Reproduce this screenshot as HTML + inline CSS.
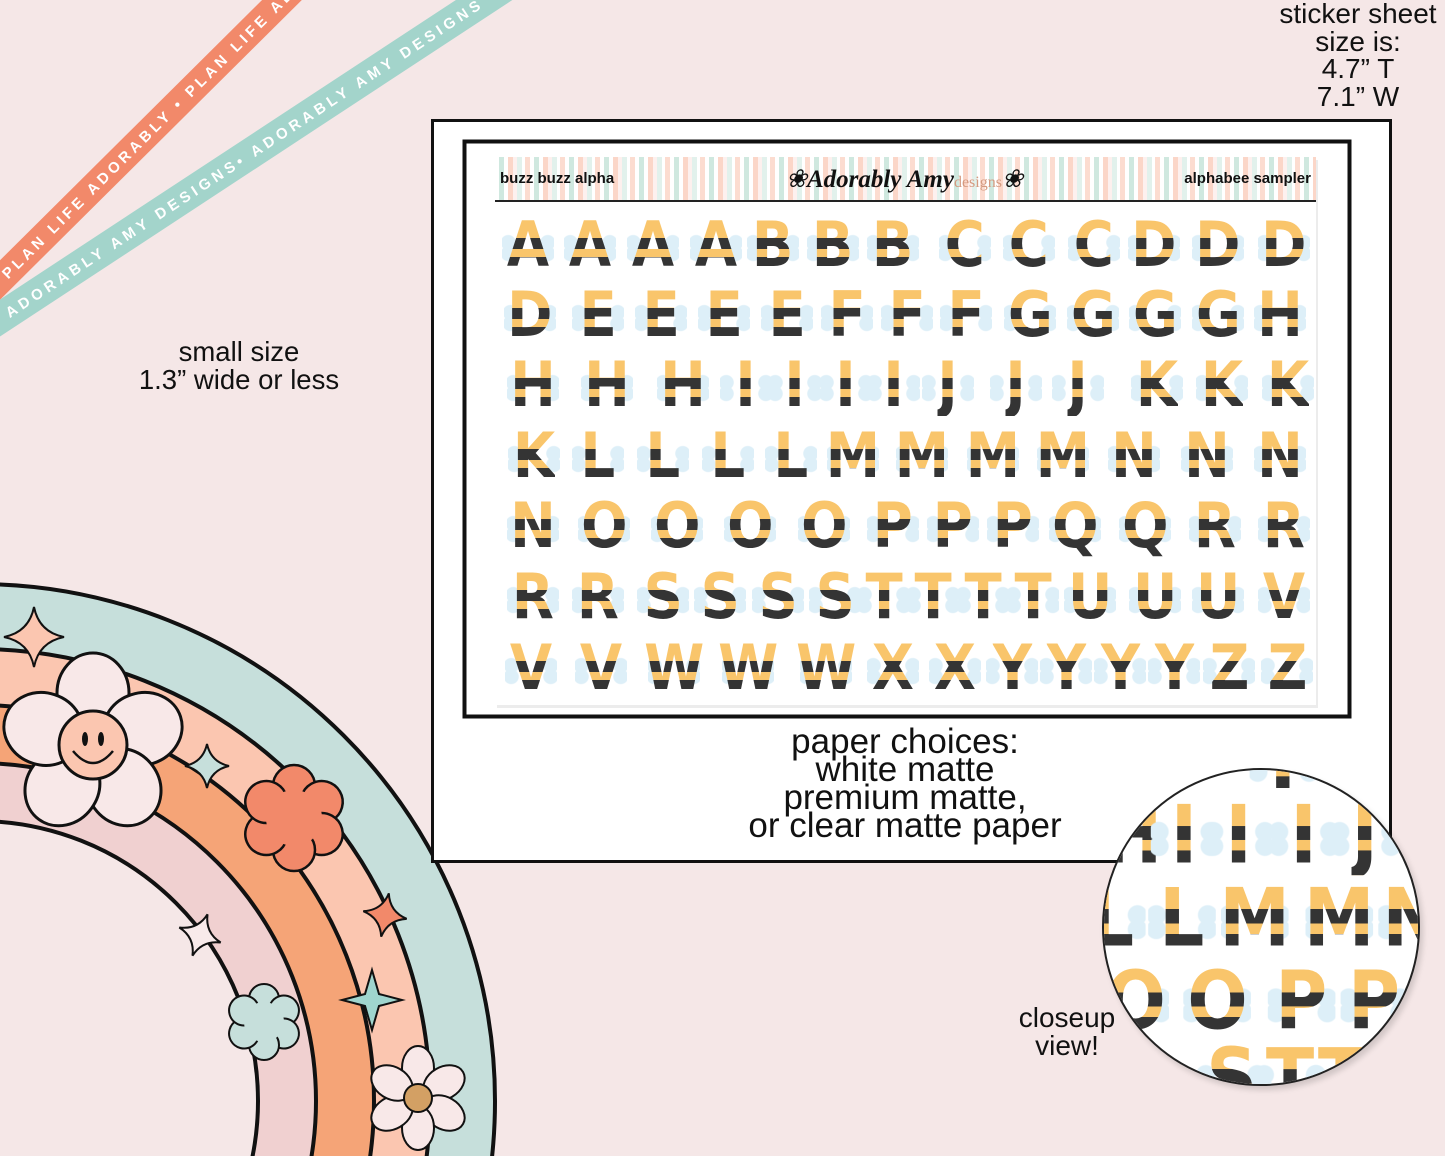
<!DOCTYPE html>
<html><head><meta charset="utf-8"><style>
html,body{margin:0;padding:0}
body{width:1445px;height:1156px;position:relative;overflow:hidden;background:#f5e7e7;font-family:"Liberation Sans",sans-serif}
.abs{position:absolute}
.c{position:absolute;width:80px;margin-left:-40px;height:62px;text-align:center}
.c::before{content:"";position:absolute;left:50%;top:18px;width:52px;height:30px;margin-left:-26px;
background:radial-gradient(circle at 12% 35%,#ddeff8 7px,transparent 8px),radial-gradient(circle at 12% 72%,#ddeff8 7px,transparent 8px),radial-gradient(circle at 88% 35%,#ddeff8 7px,transparent 8px),radial-gradient(circle at 88% 72%,#ddeff8 7px,transparent 8px);background-repeat:no-repeat}
.c b{position:relative;display:inline-block;font-family:"DejaVu Sans",sans-serif;font-weight:bold;font-size:62px;line-height:62px;
transform:scaleX(.88);color:transparent;
background:linear-gradient(to bottom,#f9c56b 0,#f9c56b 24px,#343434 24px,#343434 35px,#f9c56b 35px,#f9c56b 43px,#343434 43px);
-webkit-background-clip:text;background-clip:text}
.t{position:absolute;text-align:center;color:#111}
</style></head><body>
<svg class="abs" style="left:0;top:0" width="1445" height="1156" viewBox="0 0 1445 1156">
<defs>
<g id="star"><path d="M0,-30 Q5,-5 30,0 Q5,5 0,30 Q-5,5 -30,0 Q-5,-5 0,-30Z" stroke="#111" stroke-width="2"/></g>
<g id="star4"><path d="M0,-22 Q4,-4 22,0 Q4,4 0,22 Q-4,4 -22,0 Q-4,-4 0,-22Z" stroke="#111" stroke-width="2"/></g>
</defs>
<g transform="translate(0,280) rotate(-44.8)">
<rect x="-60" y="-14" width="520" height="28" fill="#f2896a"/>
<text x="6" y="5.5" font-family="Liberation Sans" font-size="15" font-weight="bold" letter-spacing="3.8" fill="#fff">PLAN LIFE ADORABLY • PLAN LIFE ADORABLY</text>
</g>
<g transform="translate(0,318) rotate(-33.3)">
<rect x="-60" y="-15.5" width="720" height="31" fill="#a3d4cb"/>
<text x="8" y="5.5" font-family="Liberation Sans" font-size="15" font-weight="bold" letter-spacing="4.2" fill="#fff">ADORABLY AMY DESIGNS• ADORABLY AMY DESIGNS •</text>
</g>
<g stroke="#111" stroke-width="4">
<circle cx="-22" cy="1101" r="517" fill="#c6dfdb"/>
<circle cx="-22" cy="1101" r="452" fill="#fbc6b0"/>
<circle cx="-22" cy="1101" r="396" fill="#f5a477"/>
<circle cx="-22" cy="1101" r="338" fill="#f0d0d0"/>
<circle cx="-22" cy="1101" r="280" fill="#f5e7e7"/>
</g>
<g transform="translate(34,637)" fill="#fbc6b0"><use href="#star"/></g>
<g transform="translate(207,766)" fill="#c6dfdb"><use href="#star4"/></g>
<g transform="translate(200,935) rotate(20)" fill="#f8eaea"><use href="#star4"/></g>
<g transform="translate(385,915) rotate(10)" fill="#f2896a"><use href="#star4"/></g>
<g transform="translate(372,1000)" fill="#9fd5ce"><path d="M0,-30 L7,-6 30,0 7,6 0,30 -7,6 -30,0 -7,-6Z" stroke="#111" stroke-width="2"/></g>
<g transform="translate(93,745)" fill="#f8e8e8" stroke="#111" stroke-width="3">
<g><ellipse cx="0" cy="-52" rx="36" ry="40"/><ellipse cx="0" cy="-52" rx="36" ry="40" transform="rotate(72)"/><ellipse cx="0" cy="-52" rx="36" ry="40" transform="rotate(144)"/><ellipse cx="0" cy="-52" rx="36" ry="40" transform="rotate(216)"/><ellipse cx="0" cy="-52" rx="36" ry="40" transform="rotate(288)"/></g>
<circle r="34" fill="#fbc6b0"/>
<ellipse cx="-8" cy="-6" rx="3" ry="7" fill="#111" stroke="none"/><ellipse cx="8" cy="-6" rx="3" ry="7" fill="#111" stroke="none"/>
<path d="M-20,6 Q0,30 20,6" fill="none" stroke-width="2.5"/>
</g>
<g transform="translate(294,818)" fill="#f2896a" stroke="#111" stroke-width="2.5">
<circle cx="0" cy="-32" r="21"/><circle cx="0" cy="-32" r="21" transform="rotate(60)"/><circle cx="0" cy="-32" r="21" transform="rotate(120)"/><circle cx="0" cy="-32" r="21" transform="rotate(180)"/><circle cx="0" cy="-32" r="21" transform="rotate(240)"/><circle cx="0" cy="-32" r="21" transform="rotate(300)"/>
<circle r="28" stroke="none"/>
</g>
<g transform="translate(264,1022)" fill="#c6dfdb" stroke="#111" stroke-width="2">
<circle cx="0" cy="-23" r="15"/><circle cx="0" cy="-23" r="15" transform="rotate(60)"/><circle cx="0" cy="-23" r="15" transform="rotate(120)"/><circle cx="0" cy="-23" r="15" transform="rotate(180)"/><circle cx="0" cy="-23" r="15" transform="rotate(240)"/><circle cx="0" cy="-23" r="15" transform="rotate(300)"/>
<circle r="20" stroke="none"/>
</g>
<g transform="translate(418,1098)" fill="#f8e8e8" stroke="#111" stroke-width="2">
<ellipse cx="0" cy="-30" rx="16" ry="22"/><ellipse cx="0" cy="-30" rx="16" ry="22" transform="rotate(60)"/><ellipse cx="0" cy="-30" rx="16" ry="22" transform="rotate(120)"/><ellipse cx="0" cy="-30" rx="16" ry="22" transform="rotate(180)"/><ellipse cx="0" cy="-30" rx="16" ry="22" transform="rotate(240)"/><ellipse cx="0" cy="-30" rx="16" ry="22" transform="rotate(300)"/>
<circle r="14" fill="#d3a064"/>
</g>
<rect x="432.5" y="120.5" width="958" height="741" fill="#fff" stroke="#111" stroke-width="3"/>
<rect x="464.5" y="141.5" width="885" height="575" fill="#fff" stroke="#111" stroke-width="4"/>
<rect x="497" y="160" width="821" height="548" fill="#ececec"/>
<rect x="495" y="157" width="821" height="548" fill="#fff"/>
</svg>
<div class="abs" style="left:495px;top:157px;width:821px;height:43px;border-bottom:2px solid #222;background:repeating-linear-gradient(to right,#fff 0 4px,#cfe8df 4px 9px,#fff 9px 13px,#fbd6c8 13px 18px,#fdf0ee 18px 22px,#e2f1ec 22px 27px,#fff 27px 30px,#fcdcd0 30px 35px)"></div>
<div class="abs" style="left:500px;top:170px;font-size:15px;font-weight:bold;color:#111">buzz buzz alpha</div>
<div class="abs" style="right:134px;top:170px;font-size:15px;font-weight:bold;color:#111">alphabee sampler</div>
<div class="abs" style="left:786px;top:164px;font-family:'Liberation Serif',serif;font-style:italic;font-size:25px;color:#111;white-space:nowrap">❀<span style="font-weight:bold">Adorably Amy</span><span style="font-size:16px;color:#d49a80;font-style:normal">designs</span>❀</div>

<div id="g">
<div class="c" style="left:528px;top:214px"><b>A</b></div><div class="c" style="left:590px;top:214px"><b>A</b></div><div class="c" style="left:653px;top:214px"><b>A</b></div><div class="c" style="left:716px;top:214px"><b>A</b></div><div class="c" style="left:773px;top:214px"><b>B</b></div><div class="c" style="left:833px;top:214px"><b>B</b></div><div class="c" style="left:893px;top:214px"><b>B</b></div><div class="c" style="left:965px;top:214px"><b>C</b></div><div class="c" style="left:1029px;top:214px"><b>C</b></div><div class="c" style="left:1094px;top:214px"><b>C</b></div><div class="c" style="left:1154px;top:214px"><b>D</b></div><div class="c" style="left:1218px;top:214px"><b>D</b></div><div class="c" style="left:1284px;top:214px"><b>D</b></div>
<div class="c" style="left:530px;top:284px"><b>D</b></div><div class="c" style="left:598px;top:284px"><b>E</b></div><div class="c" style="left:661px;top:284px"><b>E</b></div><div class="c" style="left:724px;top:284px"><b>E</b></div><div class="c" style="left:787px;top:284px"><b>E</b></div><div class="c" style="left:847px;top:284px"><b>F</b></div><div class="c" style="left:907px;top:284px"><b>F</b></div><div class="c" style="left:966px;top:284px"><b>F</b></div><div class="c" style="left:1030px;top:284px"><b>G</b></div><div class="c" style="left:1093px;top:284px"><b>G</b></div><div class="c" style="left:1155px;top:284px"><b>G</b></div><div class="c" style="left:1218px;top:284px"><b>G</b></div><div class="c" style="left:1280px;top:284px"><b>H</b></div>
<div class="c" style="left:533px;top:354px"><b>H</b></div><div class="c" style="left:607px;top:354px"><b>H</b></div><div class="c" style="left:683px;top:354px"><b>H</b></div><div class="c" style="left:746px;top:354px"><b>I</b></div><div class="c" style="left:795px;top:354px"><b>I</b></div><div class="c" style="left:846px;top:354px"><b>I</b></div><div class="c" style="left:894px;top:354px"><b>I</b></div><div class="c" style="left:948px;top:354px"><b>J</b></div><div class="c" style="left:1016px;top:354px"><b>J</b></div><div class="c" style="left:1078px;top:354px"><b>J</b></div><div class="c" style="left:1157px;top:354px"><b>K</b></div><div class="c" style="left:1222px;top:354px"><b>K</b></div><div class="c" style="left:1288px;top:354px"><b>K</b></div>
<div class="c" style="left:534px;top:425px"><b>K</b></div><div class="c" style="left:598px;top:425px"><b>L</b></div><div class="c" style="left:663px;top:425px"><b>L</b></div><div class="c" style="left:728px;top:425px"><b>L</b></div><div class="c" style="left:791px;top:425px"><b>L</b></div><div class="c" style="left:853px;top:425px"><b>M</b></div><div class="c" style="left:922px;top:425px"><b>M</b></div><div class="c" style="left:993px;top:425px"><b>M</b></div><div class="c" style="left:1063px;top:425px"><b>M</b></div><div class="c" style="left:1134px;top:425px"><b>N</b></div><div class="c" style="left:1207px;top:425px"><b>N</b></div><div class="c" style="left:1280px;top:425px"><b>N</b></div>
<div class="c" style="left:533px;top:495px"><b>N</b></div><div class="c" style="left:604px;top:495px"><b>O</b></div><div class="c" style="left:677px;top:495px"><b>O</b></div><div class="c" style="left:750px;top:495px"><b>O</b></div><div class="c" style="left:824px;top:495px"><b>O</b></div><div class="c" style="left:893px;top:495px"><b>P</b></div><div class="c" style="left:953px;top:495px"><b>P</b></div><div class="c" style="left:1013px;top:495px"><b>P</b></div><div class="c" style="left:1075px;top:495px"><b>Q</b></div><div class="c" style="left:1145px;top:495px"><b>Q</b></div><div class="c" style="left:1215px;top:495px"><b>R</b></div><div class="c" style="left:1284px;top:495px"><b>R</b></div>
<div class="c" style="left:533px;top:566px"><b>R</b></div><div class="c" style="left:598px;top:566px"><b>R</b></div><div class="c" style="left:663px;top:566px"><b>S</b></div><div class="c" style="left:720px;top:566px"><b>S</b></div><div class="c" style="left:778px;top:566px"><b>S</b></div><div class="c" style="left:835px;top:566px"><b>S</b></div><div class="c" style="left:884px;top:566px"><b>T</b></div><div class="c" style="left:933px;top:566px"><b>T</b></div><div class="c" style="left:983px;top:566px"><b>T</b></div><div class="c" style="left:1033px;top:566px"><b>T</b></div><div class="c" style="left:1090px;top:566px"><b>U</b></div><div class="c" style="left:1155px;top:566px"><b>U</b></div><div class="c" style="left:1218px;top:566px"><b>U</b></div><div class="c" style="left:1284px;top:566px"><b>V</b></div>
<div class="c" style="left:531px;top:637px"><b>V</b></div><div class="c" style="left:601px;top:637px"><b>V</b></div><div class="c" style="left:674px;top:637px"><b>W</b></div><div class="c" style="left:748px;top:637px"><b>W</b></div><div class="c" style="left:826px;top:637px"><b>W</b></div><div class="c" style="left:893px;top:637px"><b>X</b></div><div class="c" style="left:955px;top:637px"><b>X</b></div><div class="c" style="left:1012px;top:637px"><b>Y</b></div><div class="c" style="left:1066px;top:637px"><b>Y</b></div><div class="c" style="left:1120px;top:637px"><b>Y</b></div><div class="c" style="left:1174px;top:637px"><b>Y</b></div><div class="c" style="left:1229px;top:637px"><b>Z</b></div><div class="c" style="left:1287px;top:637px"><b>Z</b></div>
</div>

<div class="t" style="left:1248px;top:0;width:220px;font-size:28px;line-height:27.5px">sticker sheet<br>size is:<br>4.7” T<br>7.1” W</div>
<div class="t" style="left:90px;top:338px;width:298px;font-size:27.5px;line-height:28px">small size<br>1.3” wide or less</div>
<div class="t" style="left:655px;top:728px;width:500px;font-size:35px;line-height:28px">paper choices:<br>white matte<br>premium matte,<br>or clear matte paper</div>

<div class="abs" style="left:1102px;top:768px;width:318px;height:318px;border-radius:50%;background:#fff;border:2px solid #222;box-sizing:border-box;overflow:hidden;box-shadow:3px 4px 6px rgba(0,0,0,.15)">
<div class="abs" style="left:0;top:0;width:250px;height:250px;transform:scale(1.3);transform-origin:0 0">
<div class="c" style="left:46px;top:-38px"><b>H</b></div><div class="c" style="left:138px;top:-38px"><b>I</b></div>
<div class="c" style="left:22px;top:19px"><b>H</b></div><div class="c" style="left:62px;top:19px"><b>I</b></div><div class="c" style="left:104px;top:19px"><b>I</b></div><div class="c" style="left:154px;top:19px"><b>I</b></div><div class="c" style="left:201px;top:19px"><b>J</b></div>
<div class="c" style="left:6px;top:83px"><b>L</b></div><div class="c" style="left:60px;top:83px"><b>L</b></div><div class="c" style="left:116px;top:83px"><b>M</b></div><div class="c" style="left:181px;top:83px"><b>M</b></div><div class="c" style="left:237px;top:83px"><b>N</b></div>
<div class="c" style="left:24px;top:147px"><b>O</b></div><div class="c" style="left:87px;top:147px"><b>O</b></div><div class="c" style="left:152px;top:147px"><b>P</b></div><div class="c" style="left:208px;top:147px"><b>P</b></div>
<div class="c" style="left:98px;top:206px"><b>S</b></div><div class="c" style="left:143px;top:206px"><b>T</b></div><div class="c" style="left:183px;top:206px"><b>T</b></div>
</div></div>
<div class="t" style="left:977px;top:1004px;width:180px;font-size:28px;line-height:28px">closeup<br>view!</div>
</body></html>
